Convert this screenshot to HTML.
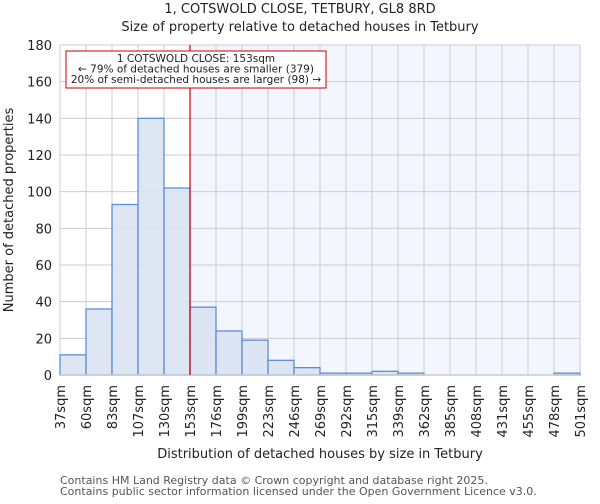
<!DOCTYPE html>
<html><head><meta charset="utf-8"><style>
body{margin:0;background:#fff;font-family:"DejaVu Sans","Liberation Sans",sans-serif;}
svg text{font-family:"DejaVu Sans","Liberation Sans",sans-serif;fill:#222;}
</style></head><body>
<svg id="chart" width="600" height="500" xmlns="http://www.w3.org/2000/svg">
<text x="300" y="13" text-anchor="middle" font-size="13">1, COTSWOLD CLOSE, TETBURY, GL8 8RD</text>
<text x="300" y="31" text-anchor="middle" font-size="13">Size of property relative to detached houses in Tetbury</text>
<g id="plot"></g>
<text x="320" y="458" text-anchor="middle" font-size="13">Distribution of detached houses by size in Tetbury</text>
<text transform="translate(13,210) rotate(-90)" text-anchor="middle" font-size="13">Number of detached properties</text>
<text x="60" y="484" font-size="11" style="fill:#555">Contains HM Land Registry data © Crown copyright and database right 2025.</text>
<text x="60" y="495" font-size="11" style="fill:#555">Contains public sector information licensed under the Open Government Licence v3.0.</text>
</svg>
<script>
const categories=["37sqm","60sqm","83sqm","107sqm","130sqm","153sqm","176sqm","199sqm","223sqm","246sqm","269sqm","292sqm","315sqm","339sqm","362sqm","385sqm","408sqm","431sqm","455sqm","478sqm","501sqm"];
const counts=[11,36,93,140,102,37,24,19,8,4,1,1,2,1,0,0,0,0,0,1];
const yTicks=[0,20,40,60,80,100,120,140,160,180];
const markerBin=5;
const NS="http://www.w3.org/2000/svg";
const g=document.getElementById('plot');
const X0=60,X1=580,Y0=375,Y1=45,YMAX=180;
const nb=counts.length;
const xs=i=>X0+(X1-X0)*i/nb;
const ys=v=>Y0-(Y0-Y1)*v/YMAX;
function el(t,a){const e=document.createElementNS(NS,t);for(const k in a)e.setAttribute(k,a[k]);g.appendChild(e);return e;}
let r=el('rect',{x:xs(markerBin),y:Y1,width:X1-xs(markerBin),height:Y0-Y1,fill:'#f3f6fe'});


yTicks.forEach(v=>{
  let l=el('line',{x1:X0,x2:X1,y1:ys(v),y2:ys(v),stroke:'#ccc','stroke-width':1});
  
  
  let t=el('text',{x:X0-8,y:ys(v)+5,'text-anchor':'end','font-size':13});
  t.textContent=v;
  
  
});
categories.forEach((c,i)=>{
  let l=el('line',{x1:xs(i),x2:xs(i),y1:Y1,y2:Y0,stroke:'#ccc','stroke-width':1});
  
  
  let t=el('text',{transform:`translate(${xs(i)+5},${Y0+10}) rotate(-90)`,'text-anchor':'end','font-size':13});
  t.textContent=c;
  
  
});
counts.forEach((v,i)=>{
  if(v<=0)return;
  let b=el('rect',{x:xs(i),y:ys(v),width:xs(i+1)-xs(i),height:Y0-ys(v),fill:'#dae3f3',stroke:'#5b8fd6','stroke-width':1.3,'fill-opacity':0.9});
  
  
});
let ax=el('line',{x1:X0,x2:X1,y1:Y0,y2:Y0,stroke:'#ccc','stroke-width':1.5});


let m=el('line',{x1:xs(markerBin),x2:xs(markerBin),y1:Y1,y2:Y0,stroke:'#cc0000','stroke-width':1.2});


let box=el('rect',{x:66,y:51,width:260,height:37,fill:'#fff',stroke:'#cc0000','stroke-width':1});


["1 COTSWOLD CLOSE: 153sqm","← 79% of detached houses are smaller (379)","20% of semi-detached houses are larger (98) →"].forEach((s,i)=>{
  let t=el('text',{x:196,y:62+i*10.5,'text-anchor':'middle','font-size':10.5});
  t.textContent=s;
  
  
});
</script>
</body></html>
